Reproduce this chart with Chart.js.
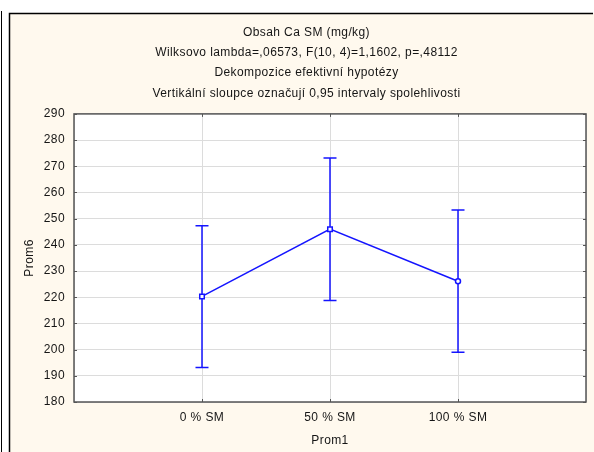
<!DOCTYPE html>
<html>
<head>
<meta charset="utf-8">
<script src="https://cdn.jsdelivr.net/npm/chart.js@4.4.1/dist/chart.umd.min.js"></script>
<style>
  html, body { margin: 0; padding: 0; background: #ffffff; }
  canvas { display: block; }
</style>
</head>
<body>
<canvas id="meansChart" width="594" height="452"></canvas>
<script>
const categories = ["0 % SM", "50 % SM", "100 % SM"];
const means = [220.3, 246.0, 226.1];
const upper = [247.3, 273.2, 253.3];
const lower = [193.2, 218.8, 199.0];
const pointStyles = ["rect", "rect", "circle"];

const titleLines = [
  "Obsah Ca SM (mg/kg)",
  "Wilksovo lambda=,06573, F(10, 4)=1,1602, p=,48112",
  "Dekompozice efektivní hypotézy",
  "Vertikální sloupce označují 0,95 intervaly spolehlivosti",
];

const FONT = "'Liberation Sans', Arial, sans-serif";
const BLUE = "#1414ff";
const TEXT = "#151515";

// text in the old Statistica renderer runs a bit wide
const spacing = {
  id: "spacing",
  beforeUpdate(chart) { chart.ctx.letterSpacing = "0.4px"; },
  beforeDraw(chart) { chart.ctx.letterSpacing = "0.4px"; },
};

// window edge, cream panel and white plot area
const panel = {
  id: "panel",
  beforeDraw(chart) {
    const { ctx, width, height, chartArea: a } = chart;
    ctx.save();
    ctx.fillStyle = "#ffffff";
    ctx.fillRect(0, 0, width, height);
    ctx.strokeStyle = "#000000";
    ctx.lineWidth = 1;
    ctx.beginPath();
    ctx.moveTo(1.5, 11);
    ctx.lineTo(1.5, height);
    ctx.stroke();
    ctx.fillStyle = "#fff9ee";
    ctx.fillRect(9, 13, width - 9, height - 13);
    ctx.lineWidth = 1.5;
    ctx.beginPath();
    ctx.moveTo(9.5, height);
    ctx.lineTo(9.5, 13.5);
    ctx.lineTo(width - 1, 13.5);
    ctx.stroke();
    ctx.fillStyle = "#ffffff";
    ctx.fillRect(a.left, a.top, a.right - a.left, a.bottom - a.top);
    ctx.restore();
  },
};

// confidence interval whiskers with caps
const whiskers = {
  id: "whiskers",
  beforeDatasetsDraw(chart) {
    const { ctx, scales: { x, y } } = chart;
    ctx.save();
    ctx.strokeStyle = BLUE;
    ctx.lineWidth = 1.5;
    categories.forEach((c, i) => {
      const px = x.getPixelForValue(i + 1);
      const top = y.getPixelForValue(upper[i]);
      const bot = y.getPixelForValue(lower[i]);
      ctx.beginPath();
      ctx.moveTo(px, top);
      ctx.lineTo(px, bot);
      ctx.moveTo(px - 6.5, top);
      ctx.lineTo(px + 6.5, top);
      ctx.moveTo(px - 6.5, bot);
      ctx.lineTo(px + 6.5, bot);
      ctx.stroke();
    });
    ctx.restore();
  },
};

// plot frame with short inward ticks
const frame = {
  id: "frame",
  afterDraw(chart) {
    const { ctx, chartArea: a, scales: { x, y } } = chart;
    ctx.save();
    ctx.strokeStyle = "#555555";
    ctx.lineWidth = 1.5;
    ctx.strokeRect(a.left, a.top, a.right - a.left, a.bottom - a.top);
    ctx.lineWidth = 1;
    ctx.beginPath();
    y.ticks.forEach((t) => {
      const py = Math.round(y.getPixelForValue(t.value)) + 0.5;
      ctx.moveTo(a.left, py);
      ctx.lineTo(a.left + 3, py);
      ctx.moveTo(a.right, py);
      ctx.lineTo(a.right - 3, py);
    });
    categories.forEach((c, i) => {
      const px = Math.round(x.getPixelForValue(i + 1)) + 0.5;
      ctx.moveTo(px, a.bottom);
      ctx.lineTo(px, a.bottom - 3);
      ctx.moveTo(px, a.top);
      ctx.lineTo(px, a.top + 3);
    });
    ctx.stroke();
    ctx.restore();
  },
};

new Chart(document.getElementById("meansChart"), {
  type: "line",
  data: {
    datasets: [
      {
        label: "Prom6",
        data: means.map((m, i) => ({ x: i + 1, y: m })),
        borderColor: BLUE,
        borderWidth: 1.5,
        backgroundColor: "#ffffff",
        pointStyle: pointStyles,
        pointRadius: [3.2, 3.2, 2.5],
        pointBorderWidth: 1.5,
        pointBorderColor: BLUE,
        tension: 0,
      },
    ],
  },
  options: {
    responsive: false,
    animation: false,
    devicePixelRatio: 1,
    layout: { padding: { left: 24, right: 5, top: 0, bottom: 0 } },
    scales: {
      x: {
        type: "linear",
        min: 0,
        max: 4,
        afterFit: (s) => { s.height = 50; },
        ticks: {
          stepSize: 1,
          padding: 8,
          color: TEXT,
          font: { family: FONT, size: 12 },
          callback: (v) => categories[v - 1] || "",
        },
        grid: { color: "#dcdcdc", lineWidth: 1, drawTicks: false },
        border: { display: false },
        title: {
          display: true,
          text: "Prom1",
          color: TEXT,
          font: { family: FONT, size: 12 },
          padding: { top: 0, bottom: 4 },
        },
      },
      y: {
        min: 180,
        max: 290,
        afterFit: (s) => { s.width = 50; },
        ticks: {
          stepSize: 10,
          padding: 9,
          color: TEXT,
          font: { family: FONT, size: 12 },
        },
        grid: { color: "#dcdcdc", lineWidth: 1, drawTicks: false },
        border: { display: false },
        title: {
          display: true,
          text: "Prom6",
          color: TEXT,
          font: { family: FONT, size: 12 },
          padding: { top: -2, bottom: 0 },
        },
      },
    },
    plugins: {
      legend: { display: false },
      tooltip: { enabled: false },
      title: {
        display: true,
        text: titleLines,
        color: TEXT,
        font: { family: FONT, size: 12, weight: "normal", lineHeight: 1.694 },
        padding: { top: 22.3, bottom: 10.3 },
      },
    },
  },
  plugins: [spacing, panel, whiskers, frame],
});
</script>
</body>
</html>
